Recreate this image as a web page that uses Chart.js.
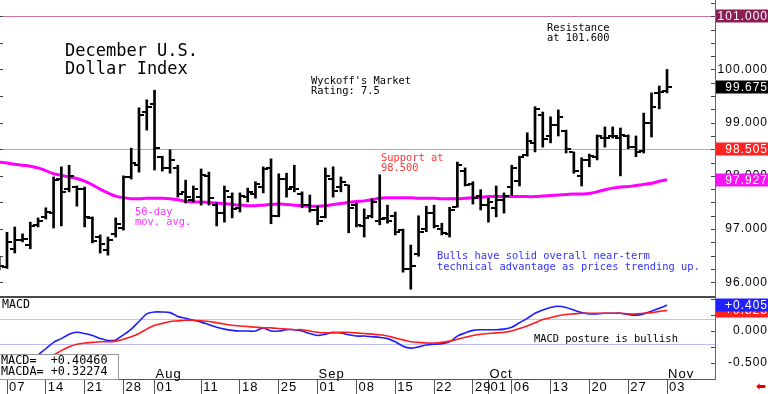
<!DOCTYPE html>
<html><head><meta charset="utf-8">
<script src="https://cdn.jsdelivr.net/npm/chart.js@4.4.0/dist/chart.umd.min.js"></script>
<style>
html,body{margin:0;padding:0;background:#fff;}
#wrap{position:relative;width:768px;height:394px;overflow:hidden;background:#fff;}
#wrap canvas{position:absolute;left:0;}
.t{position:absolute;font-family:"DejaVu Sans Mono",monospace;font-size:10.4px;line-height:10px;white-space:pre;color:#000;}
</style></head><body>
<div id="wrap">
<canvas id="price" width="768" height="296" style="top:0"></canvas>
<canvas id="macd" width="768" height="98" style="top:296px"></canvas>
<div class="t" style="left:65px;top:40.5px;font-size:17px;line-height:18.5px;">December U.S.
Dollar Index</div>
<div class="t" style="left:311px;top:74.5px;">Wyckoff's Market
Rating: 7.5</div>
<div class="t" style="left:547px;top:21.5px;">Resistance
at 101.600</div>
<div class="t" style="left:381px;top:152px;color:#ff3535;">Support at
98.500</div>
<div class="t" style="left:135px;top:205.5px;line-height:10.5px;color:#ff33ff;">50-day
mov. avg.</div>
<div class="t" style="left:437px;top:249.5px;line-height:11px;color:#3333ff;">Bulls have solid overall near-term
technical advantage as prices trending up.</div>
<div class="t" style="left:534px;top:332.5px;">MACD posture is bullish</div>
<div class="t" style="left:2px;top:299px;font-size:11.6px;">MACD</div>
<div class="t" style="left:-1px;top:354px;width:117px;height:24px;border:1px solid #9a9a9a;background:#fff;font-size:11.8px;line-height:11px;padding-left:1px;box-sizing:content-box;">MACD=  +0.40460
MACDA= +0.32274</div>
<div style="position:absolute;left:756px;top:379px;color:#e00000;font:bold 12px 'DejaVu Sans';">&#x2B05;</div>
</div>
<script>
// ---------- data ----------
const dates = ['Jul 03','Jul 07','Jul 08','Jul 09','Jul 10','Jul 11','Jul 14','Jul 15','Jul 16','Jul 17','Jul 18','Jul 21','Jul 22','Jul 23','Jul 24','Jul 25','Jul 28','Jul 29','Jul 30','Jul 31','Aug 01','Aug 04','Aug 05','Aug 06','Aug 07','Aug 08','Aug 11','Aug 12','Aug 13','Aug 14','Aug 15','Aug 18','Aug 19','Aug 20','Aug 21','Aug 22','Aug 25','Aug 26','Aug 27','Aug 28','Aug 29','Sep 01','Sep 02','Sep 03','Sep 04','Sep 05','Sep 08','Sep 09','Sep 10','Sep 11','Sep 12','Sep 15','Sep 16','Sep 17','Sep 18','Sep 19','Sep 22','Sep 23','Sep 24','Sep 25','Sep 26','Sep 29','Sep 30','Oct 01','Oct 02','Oct 03','Oct 06','Oct 07','Oct 08','Oct 09','Oct 10','Oct 13','Oct 14','Oct 15','Oct 16','Oct 17','Oct 20','Oct 21','Oct 22','Oct 23','Oct 24','Oct 27','Oct 28','Oct 29','Oct 30','Oct 31','Nov 03'];

const open = [96.42,96.28,96.63,96.80,96.70,97.08,97.22,97.30,97.95,97.75,97.80,97.75,97.20,96.85,96.60,96.90,97.02,97.98,98.20,99.20,99.35,98.35,98.15,98.15,97.70,97.55,97.60,98.00,97.45,97.30,97.60,97.40,97.60,97.65,97.80,98.15,97.25,97.95,97.80,97.65,97.45,97.35,97.22,97.95,97.80,97.82,97.45,97.05,97.25,97.15,97.20,97.25,96.98,96.25,96.53,97.00,97.30,97.00,96.90,97.42,98.10,97.85,97.62,97.45,97.40,97.55,97.80,97.90,98.40,98.62,99.15,98.75,98.95,98.85,98.45,98.00,98.30,98.35,98.72,98.75,98.72,98.75,98.55,98.47,99.00,99.55,99.60];
const high = [96.47,96.94,97.04,96.91,97.13,97.21,97.40,97.98,98.17,98.20,97.81,97.79,97.23,96.89,96.85,97.21,98.00,98.52,99.28,99.43,99.61,98.37,98.49,98.20,97.92,97.81,98.13,98.07,97.49,97.81,97.68,97.68,97.77,97.89,98.17,98.32,98.04,98.05,98.20,97.70,97.64,97.43,98.15,98.17,97.98,97.83,97.49,97.38,97.57,98.02,97.45,97.32,97.00,96.70,97.25,97.43,97.45,97.11,97.41,98.26,98.15,97.89,97.74,97.58,97.81,97.68,98.20,98.37,98.81,99.30,99.20,99.11,99.24,98.86,98.45,98.34,98.41,98.77,98.92,98.92,98.90,98.77,98.75,99.18,99.56,99.69,100.00];
const low = [96.23,96.26,96.55,96.76,96.63,97.04,97.19,97.02,97.06,97.70,97.43,97.04,96.74,96.55,96.51,96.85,96.98,97.94,98.07,98.86,98.11,98.09,98.05,97.60,97.49,97.51,97.45,97.45,97.06,97.13,97.21,97.32,97.51,97.58,97.68,97.10,97.23,97.60,97.70,97.40,97.32,97.08,97.21,97.60,97.70,96.93,97.04,96.85,97.21,97.08,97.11,96.89,96.19,95.87,96.49,96.95,97.02,96.89,96.85,97.41,97.81,97.47,97.36,97.13,97.23,97.30,97.64,97.81,98.37,98.45,98.54,98.62,98.75,98.43,98.05,97.81,98.17,98.30,98.54,98.71,98.00,98.51,98.36,98.43,98.73,99.26,99.56];
const close = [96.30,96.76,96.80,96.82,97.05,97.15,97.32,97.92,97.70,98.00,97.75,97.22,96.78,96.72,96.80,97.10,97.97,98.25,99.15,99.30,98.52,98.15,98.30,97.65,97.60,97.75,98.02,97.58,97.30,97.72,97.38,97.62,97.70,97.85,98.12,97.25,97.95,97.75,97.75,97.45,97.35,97.15,98.00,97.72,97.88,97.40,97.08,97.20,97.50,97.18,97.15,96.95,96.25,96.30,96.95,97.30,97.05,96.92,97.35,98.20,97.83,97.58,97.45,97.50,97.55,97.62,98.15,98.35,98.65,99.25,98.70,98.95,99.10,98.50,98.10,98.30,98.38,98.75,98.72,98.75,98.77,98.55,98.45,99.00,99.30,99.58,99.675];
const ma50 = [98.26,98.24,98.22,98.20,98.18,98.15,98.10,98.04,98.01,97.98,97.95,97.90,97.83,97.75,97.68,97.62,97.59,97.57,97.57,97.58,97.58,97.58,97.57,97.55,97.52,97.51,97.51,97.50,97.49,97.48,97.46,97.45,97.44,97.44,97.45,97.46,97.47,97.46,97.45,97.44,97.43,97.43,97.44,97.46,97.48,97.50,97.52,97.53,97.55,97.58,97.59,97.59,97.59,97.59,97.58,97.58,97.58,97.57,97.57,97.57,97.58,97.59,97.60,97.61,97.61,97.61,97.61,97.61,97.61,97.61,97.62,97.63,97.64,97.65,97.66,97.66,97.67,97.70,97.74,97.77,97.79,97.80,97.82,97.84,97.86,97.90,97.927];
const macd = [-0.80,-0.75,-0.68,-0.62,-0.52,-0.38,-0.28,-0.18,-0.12,-0.05,-0.02,-0.04,-0.07,-0.12,-0.15,-0.14,-0.06,0.03,0.15,0.27,0.30,0.30,0.29,0.23,0.20,0.17,0.14,0.10,0.06,0.03,0.01,0.00,0.00,0.00,0.05,0.00,0.00,0.02,0.02,0.00,-0.04,-0.07,-0.05,-0.02,-0.03,-0.06,-0.08,-0.08,-0.09,-0.10,-0.12,-0.17,-0.24,-0.27,-0.25,-0.22,-0.21,-0.20,-0.17,-0.08,-0.03,0.01,0.02,0.02,0.02,0.03,0.06,0.13,0.20,0.28,0.33,0.37,0.39,0.37,0.33,0.29,0.27,0.27,0.28,0.28,0.28,0.26,0.25,0.27,0.31,0.36,0.405];
const macdAvg = [-0.85,-0.80,-0.75,-0.68,-0.60,-0.52,-0.45,-0.38,-0.31,-0.25,-0.21,-0.19,-0.18,-0.17,-0.17,-0.16,-0.13,-0.09,-0.04,0.03,0.09,0.12,0.15,0.16,0.17,0.17,0.16,0.15,0.13,0.11,0.09,0.08,0.07,0.06,0.05,0.05,0.04,0.03,0.02,0.02,0.00,-0.02,-0.03,-0.03,-0.02,-0.02,-0.03,-0.04,-0.05,-0.06,-0.08,-0.11,-0.14,-0.17,-0.18,-0.19,-0.19,-0.18,-0.16,-0.13,-0.10,-0.07,-0.05,-0.04,-0.03,-0.02,0.00,0.04,0.08,0.13,0.18,0.21,0.24,0.26,0.27,0.28,0.28,0.28,0.28,0.28,0.28,0.27,0.27,0.28,0.29,0.31,0.323];

const priceTicks = [96, 97, 98, 99, 100, 101];
const macdTicks = [-0.5, 0];
const tickDates = ['Jul 07','Jul 14','Jul 21','Jul 28','Aug 01','Aug 11','Aug 18','Aug 25','Sep 01','Sep 08','Sep 15','Sep 22','Sep 29','Oct 01','Oct 06','Oct 13','Oct 20','Oct 27','Nov 03'];
const tickLabels = ['07','14','21','28','01','11','18','25','01','08','15','22','29','01','06','13','20','27','03'];
const monthDates = ['Aug 01','Sep 01','Oct 01','Nov 03'];
const monthLabels = ['Aug','Sep','Oct','Nov'];

const resistance = 101.000, support = 98.505;
const priceTagValues = [101.000, 99.675, 98.505, 97.927];
const priceTagText = ['101.000','99.675','98.505','97.927'];
const priceTagColors = ['#8b1f55','#000000','#ff2424','#f414f4'];
const macdTagValues = [0.323, 0.405];
const macdTagText = ['+0.323','+0.405'];
const macdTagColors = ['#ff2020','#2020ff'];
const macdRefLines = [0.19, -0.21];

// ---------- helpers ----------
const X_MIN = 0.0985, X_MAX = 92.178;
const FONT = 'Liberation Sans, Arial, sans-serif';

function tickImg(side){
  const c = document.createElement('canvas'); c.width = 10; c.height = 2;
  const g = c.getContext('2d'); g.fillStyle = '#000';
  if (side < 0) g.fillRect(0,0,4,2); else g.fillRect(6,0,4,2);
  return c;
}
const openImg = tickImg(-1), closeImg = tickImg(1);

function drawTags(ctx, area, yScale, vals, texts, colors){
  ctx.save();
  ctx.font = '12px ' + FONT;
  ctx.textAlign = 'right'; ctx.textBaseline = 'middle';
  vals.forEach((v,i)=>{
    const py = yScale.getPixelForValue(v);
    ctx.fillStyle = colors[i];
    ctx.fillRect(area.right + 1, Math.round(py) - 6.5, 53, 13);
    ctx.fillStyle = '#fff';
    ctx.fillText(texts[i], area.right + 53, py + 0.5);
  });
  ctx.restore();
}
function minorTicks(ctx, area, yScale, from, to, step, left){
  ctx.save(); ctx.strokeStyle = '#444'; ctx.lineWidth = 1; ctx.beginPath();
  for (let v = from; v <= to + 1e-9; v += step){
    const py = Math.round(yScale.getPixelForValue(v)) + 0.5;
    if (py < area.top || py > area.bottom) continue;
    ctx.moveTo(area.right - 4, py); ctx.lineTo(area.right, py);
    if (left){ ctx.moveTo(area.left, py); ctx.lineTo(area.left + 3, py); }
  }
  ctx.stroke(); ctx.restore();
}
const spacing = { id:'spacing',
  beforeUpdate(c){ c.ctx.letterSpacing = '1px'; },
  beforeDraw(c){ c.ctx.letterSpacing = '1px'; } };

const yFit = s => { s.width = 53; s.paddingTop = 0; s.paddingBottom = 0; };

// ---------- price chart ----------
const priceDecor = {
  id:'priceDecor',
  beforeDatasetsDraw(c){
    const {ctx, chartArea:a, scales:{y}} = c;
    ctx.save(); ctx.lineWidth = 1;
    [[resistance,'#d0709f'],[support,'#f29090']].forEach(([v,col])=>{
      const py = Math.round(y.getPixelForValue(v)) + 0.5;
      ctx.strokeStyle = col; ctx.beginPath(); ctx.moveTo(a.left,py); ctx.lineTo(a.right + 1,py); ctx.stroke();
    });
    ctx.restore();
  },
  afterDraw(c){
    const {ctx, chartArea:a, scales:{y}} = c;
    minorTicks(ctx, a, y, 96, 101.25, 0.25, false);
    minorTicks(ctx, a, y, 96, 101, 0.5, true);
    drawTags(ctx, a, y, priceTagValues, priceTagText, priceTagColors);
  }
};

new Chart(document.getElementById('price'), {
  type: 'bar',
  data: { datasets: [
    { type:'bar', data: dates.map((d,i)=>({x:i, y:[low[i], high[i]]})), backgroundColor:'#000', borderWidth:0, barThickness:2, order:2 },
    { type:'scatter', data: dates.map((d,i)=>({x:i, y:open[i]})), pointStyle: openImg, pointRadius:1, order:1 },
    { type:'scatter', data: dates.map((d,i)=>({x:i, y:close[i]})), pointStyle: closeImg, pointRadius:1, order:1 },
    { type:'line', data: dates.map((d,i)=>({x:i, y:ma50[i]})), borderColor:'#ff00ff', borderWidth:3, pointRadius:0, tension:0.4, order:3 }
  ]},
  options: {
    responsive:false, maintainAspectRatio:false, animation:false, events:[],
    layout:{ padding:0, autoPadding:false },
    plugins:{ legend:{display:false}, tooltip:{enabled:false} },
    scales:{
      x:{ type:'linear', min:X_MIN, max:X_MAX, offset:false, display:false, grid:{offset:false} },
      y:{ position:'right', min:95.742, max:101.306,
          afterBuildTicks: s => { s.ticks = priceTicks.map(v=>({value:v})); },
          afterFit: yFit,
          grid:{ display:false },
          border:{ display:true, color:'#666' },
          ticks:{ color:'#000', font:{ family:FONT, size:12 }, padding:1.6, crossAlign:'far',
                  callback: v => Number(v).toFixed(3) } }
    }
  },
  plugins:[spacing, priceDecor]
});

// ---------- MACD chart ----------
const macdDecor = {
  id:'macdDecor',
  beforeDatasetsDraw(c){
    const {ctx, chartArea:a, scales:{y}} = c;
    ctx.save(); ctx.lineWidth = 1;
    [['#f6b4b4', macdRefLines[0]], ['#bcbcf6', macdRefLines[1]]].forEach(([col,v])=>{
      const py = Math.round(y.getPixelForValue(v)) + 0.5;
      ctx.strokeStyle = col; ctx.beginPath(); ctx.moveTo(a.left,py); ctx.lineTo(a.right,py); ctx.stroke();
    });
    ctx.restore();
  },
  afterDraw(c){
    const {ctx, chartArea:a, scales:{x,y}} = c;
    ctx.save();
    ctx.fillStyle = '#4a4a4a'; ctx.fillRect(a.left, a.top, a.right - a.left, 2);
    ctx.font = '13px ' + FONT; ctx.fillStyle = '#000'; ctx.textAlign = 'left'; ctx.textBaseline = 'middle';
    monthDates.forEach((d,i)=>{ ctx.fillText(monthLabels[i], x.getPixelForValue(dates.indexOf(d)) + 1, a.bottom - 5); });
    ctx.restore();
    minorTicks(ctx, a, y, -0.75, 0.5, 0.25, false);
    drawTags(ctx, a, y, macdTagValues, macdTagText, macdTagColors);
  }
};

new Chart(document.getElementById('macd'), {
  type: 'line',
  data: { datasets: [
    { data: dates.map((d,i)=>({x:i, y:macdAvg[i]})), borderColor:'#ff1c1c', borderWidth:1.6, pointRadius:0, tension:0.3 },
    { data: dates.map((d,i)=>({x:i, y:macd[i]})), borderColor:'#1c1cff', borderWidth:1.6, pointRadius:0, tension:0.3 }
  ]},
  options: {
    responsive:false, maintainAspectRatio:false, animation:false, events:[],
    layout:{ padding:0, autoPadding:false },
    plugins:{ legend:{display:false}, tooltip:{enabled:false} },
    scales:{
      x:{ type:'linear', min:X_MIN, max:X_MAX, offset:false,
          afterBuildTicks: s => { s.ticks = tickDates.map(d=>({value:dates.indexOf(d)})); },
          afterFit: s => { s.height = 15; s.paddingLeft = 0; s.paddingRight = 0; },
          grid:{ display:true, drawOnChartArea:false, drawTicks:true, tickLength:15, color:'#555', offset:false },
          border:{ display:true, color:'#555' },
          ticks:{ autoSkip:false, maxRotation:0, minRotation:0, align:'start', labelOffset:2, padding:-14,
                  color:'#000', font:{ family:FONT, size:13 },
                  callback:(v,i) => tickLabels[i] } },
      y:{ position:'right', min:-0.757, max:0.552,
          afterBuildTicks: s => { s.ticks = macdTicks.map(v=>({value:v})); },
          afterFit: yFit,
          grid:{ display:false },
          border:{ display:true, color:'#666' },
          ticks:{ color:'#000', font:{ family:FONT, size:12 }, padding:12, crossAlign:'far',
                  callback: v => Number(v).toFixed(3) } }
    }
  },
  plugins:[spacing, macdDecor]
});
</script>
</body></html>
